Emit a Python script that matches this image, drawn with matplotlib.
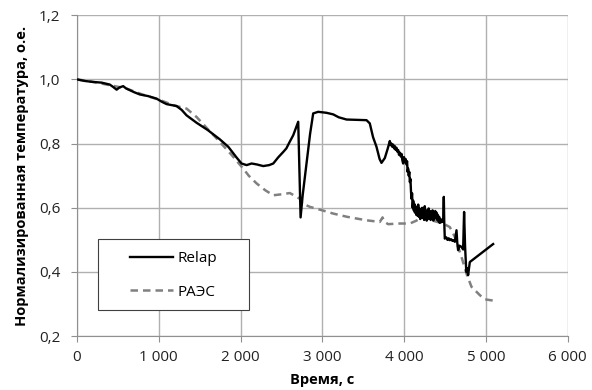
import matplotlib
matplotlib.use("Agg")
import matplotlib.pyplot as plt
from matplotlib.ticker import FuncFormatter, MultipleLocator
from matplotlib.patches import Rectangle

plt.rcParams['font.family'] = ['Open Sans', 'DejaVu Sans']

# Relap (solid black)
relap_t = [0, 100, 200, 300, 400, 440, 485, 520, 565, 600, 700, 770, 870, 974, 1040,
           1096, 1218, 1280, 1340, 1462, 1600, 1748, 1850, 1950, 2012, 2074, 2135, 2200,
           2277, 2350, 2400, 2460, 2522, 2560, 2600, 2644, 2705, 2720, 2734, 2760, 2807,
           2850, 2888, 2949, 3050, 3133, 3200, 3296, 3400, 3540, 3580, 3620, 3662, 3700,
           3723, 3764, 3800, 3825, 3835, 3845, 3855, 3866, 3877, 3887, 3897, 3907, 3917,
           3927, 3937, 3947, 3958, 3968, 3978, 3988, 3998, 4008, 4018, 4029, 4036, 4042,
           4049, 4056, 4063, 4070, 4077, 4084, 4090, 4097, 4104, 4111, 4118, 4125, 4132,
           4140, 4148, 4156, 4164, 4172, 4180, 4188, 4196, 4204, 4212, 4220, 4228, 4236,
           4244, 4252, 4260, 4268, 4276, 4284, 4292, 4300, 4308, 4316, 4324, 4332, 4340,
           4348, 4356, 4364, 4372, 4380, 4388, 4396, 4404, 4412, 4420, 4428, 4436, 4446,
           4456, 4466, 4477, 4485, 4490, 4497, 4515, 4530, 4545, 4558, 4575, 4590, 4605,
           4620, 4640, 4650, 4660, 4675, 4690, 4701, 4712, 4721, 4733, 4745, 4760, 4770,
           4782, 4803, 4950, 5088]
relap_y = [1.0, 0.995, 0.992, 0.99, 0.984, 0.977, 0.968, 0.975, 0.979, 0.972, 0.96, 0.953,
           0.948, 0.94, 0.93, 0.923, 0.917, 0.905, 0.888, 0.865, 0.842, 0.813, 0.79, 0.757,
           0.738, 0.733, 0.738, 0.735, 0.73, 0.733, 0.738, 0.757, 0.774, 0.785, 0.805, 0.826,
           0.868, 0.72, 0.57, 0.64, 0.738, 0.83, 0.894, 0.899, 0.896, 0.891, 0.882, 0.875,
           0.874, 0.873, 0.863, 0.82, 0.79, 0.752, 0.74, 0.755, 0.785, 0.808, 0.795, 0.800,
           0.790, 0.797, 0.785, 0.792, 0.780, 0.787, 0.775, 0.780, 0.765, 0.772, 0.760,
           0.768, 0.748, 0.738, 0.758, 0.742, 0.752, 0.735, 0.745, 0.712, 0.722, 0.700,
           0.712, 0.680, 0.690, 0.650, 0.628, 0.645, 0.600, 0.622, 0.592, 0.612, 0.585,
           0.605, 0.578, 0.600, 0.575, 0.610, 0.572, 0.598, 0.565, 0.590, 0.568, 0.600,
           0.570, 0.588, 0.562, 0.605, 0.575, 0.592, 0.560, 0.585, 0.565, 0.598, 0.575,
           0.590, 0.562, 0.585, 0.568, 0.592, 0.560, 0.582, 0.565, 0.590, 0.570, 0.585,
           0.562, 0.578, 0.558, 0.572, 0.553, 0.565, 0.555, 0.562, 0.556, 0.634, 0.560,
           0.504, 0.508, 0.500, 0.505, 0.499, 0.502, 0.497, 0.499, 0.494, 0.530, 0.490,
           0.468, 0.482, 0.480, 0.478, 0.474, 0.470, 0.587, 0.480, 0.400, 0.412, 0.390,
           0.431, 0.46, 0.487]

# РАЭС (dashed grey)
raes_t = [0, 200, 400, 600, 800, 1000, 1200, 1340, 1462, 1600, 1748, 1900, 2033, 2100,
          2196, 2300, 2400, 2500, 2603, 2725, 2760, 2847, 3000, 3133, 3300, 3540, 3703,
          3736, 3760, 3805, 3947, 4070, 4150, 4232, 4350, 4477, 4558, 4599, 4620, 4701,
          4762, 4823, 4925, 4986, 5108]
raes_y = [1.0, 0.992, 0.982, 0.972, 0.953, 0.937, 0.918, 0.909, 0.883, 0.845, 0.805,
          0.762, 0.722, 0.70, 0.676, 0.655, 0.639, 0.642, 0.646, 0.628, 0.613, 0.603,
          0.592, 0.582, 0.572, 0.561, 0.556, 0.57, 0.556, 0.549, 0.551, 0.551, 0.56,
          0.572, 0.56, 0.551, 0.54, 0.52, 0.509, 0.447, 0.395, 0.354, 0.328, 0.315, 0.31]

fig = plt.figure(figsize=(5.92, 3.9), dpi=100)
ax = fig.add_axes([0.130, 0.138, 0.829, 0.823])

ax.plot(relap_t, relap_y, color='black', lw=1.7, label='Relap', zorder=3)
ax.plot(raes_t, raes_y, color='#808080', lw=1.8, ls=(0, (3, 2)), label='РАЭС', zorder=2)

ax.set_xlim(0, 6000)
ax.set_ylim(0.2, 1.2)
ax.xaxis.set_major_locator(MultipleLocator(1000))
ax.yaxis.set_major_locator(MultipleLocator(0.2))
ax.xaxis.set_major_formatter(FuncFormatter(lambda v, p: f"{int(v):,}".replace(',', ' ')))
ax.yaxis.set_major_formatter(FuncFormatter(lambda v, p: f"{v:.1f}".replace('.', ',')))

ax.grid(True, color='#b0b0b0', lw=1)
ax.set_axisbelow(True)
for s in ['top', 'right']:
    ax.spines[s].set_visible(False)
for s in ['left', 'bottom']:
    ax.spines[s].set_color('#909090')
ax.tick_params(axis='both', colors='#909090', length=4, labelsize=11, labelcolor='#222222')
ax.tick_params(axis='y', pad=8)
ax.tick_params(axis='x', pad=6)

ax.set_xlabel('Время, с', fontsize=10.5, fontweight='bold', labelpad=6)
ax.set_ylabel('Нормализированная температура, о.е.', fontsize=10.5, fontweight='bold',
              labelpad=7)

# legend box
ax.add_patch(Rectangle((0.043, 0.081), 0.307, 0.221, transform=ax.transAxes,
                       facecolor='white', edgecolor='#404040', lw=0.8, zorder=4))
leg = ax.legend(loc='center left', bbox_to_anchor=(0.108, 0.189), frameon=False,
                fontsize=11, handlelength=2.8, handletextpad=0.3, labelspacing=1.2,
                borderpad=0, borderaxespad=0)
leg.set_zorder(5)

fig.savefig('out.png', dpi=100)
